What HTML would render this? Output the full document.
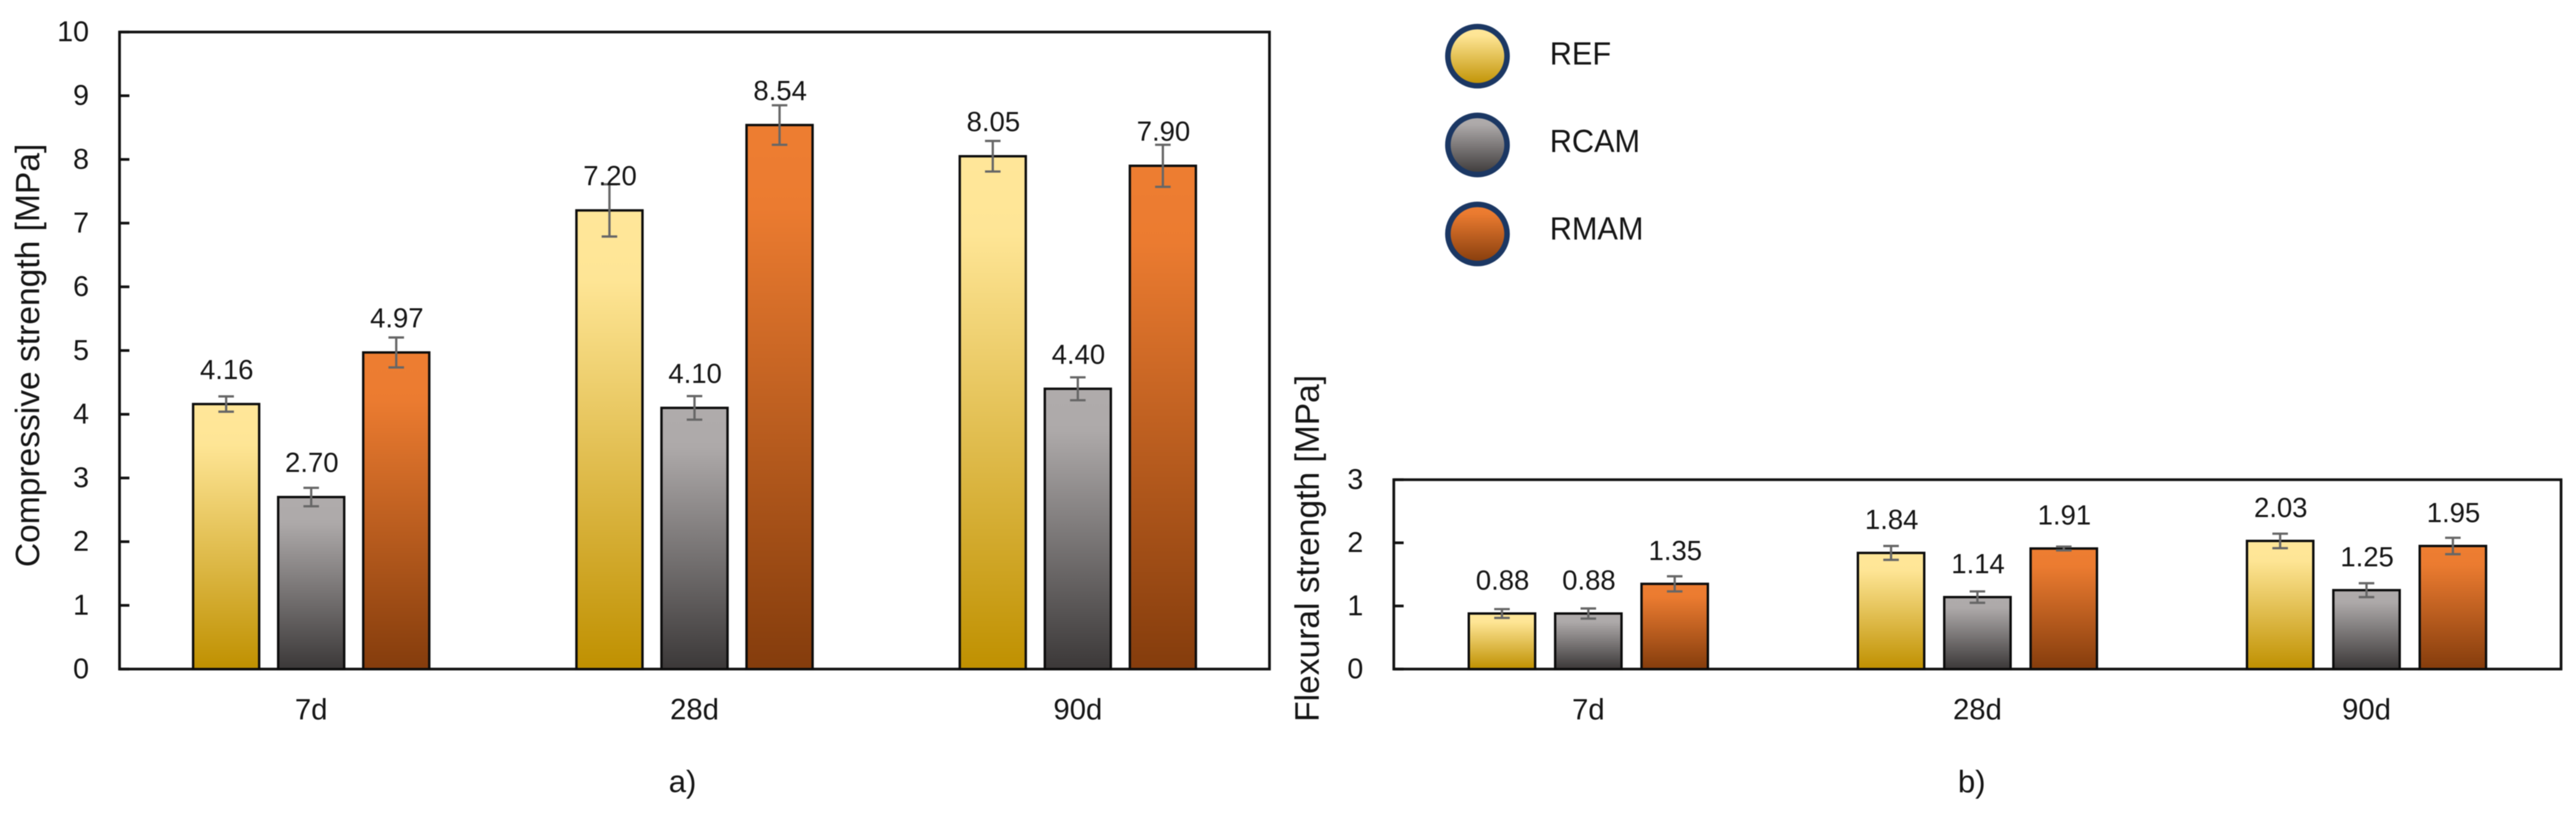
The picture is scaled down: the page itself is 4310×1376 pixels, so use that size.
<!DOCTYPE html>
<html lang="en">
<head>
<meta charset="utf-8">
<title>Compressive and flexural strength</title>
<style>
  html, body { margin: 0; padding: 0; background: #fff; }
  body { width: 4310px; height: 1376px; overflow: hidden; }
  svg { display: block; font-family: "Liberation Sans", Arial, sans-serif; fill: #151515; filter: blur(0.8px); }
</style>
</head>
<body>
<svg id="figure" xmlns="http://www.w3.org/2000/svg" width="4310" height="1376" viewBox="0 0 4310 1376">
  <defs>
    <linearGradient id="grad-ref" x1="0" y1="0" x2="0" y2="1">
      <stop offset="0" stop-color="#FFE699"/><stop offset="0.15" stop-color="#FEE595"/><stop offset="1" stop-color="#BF9000"/>
    </linearGradient>
    <linearGradient id="grad-rcam" x1="0" y1="0" x2="0" y2="1">
      <stop offset="0" stop-color="#AFABAB"/><stop offset="0.15" stop-color="#ADA9A9"/><stop offset="1" stop-color="#3B3838"/>
    </linearGradient>
    <linearGradient id="grad-rmam" x1="0" y1="0" x2="0" y2="1">
      <stop offset="0" stop-color="#ED7D31"/><stop offset="0.15" stop-color="#EB7B30"/><stop offset="1" stop-color="#843C0C"/>
    </linearGradient>
  </defs>

  <g id="chart-a"></g>
  <g id="chart-b"></g>

  <text transform="translate(65.5 595) rotate(-90)" text-anchor="middle" font-size="56.2">Compressive strength [MPa]</text>
  <text transform="translate(2206.5 918) rotate(-90)" text-anchor="middle" font-size="56.2">Flexural strength [MPa]</text>
  <text x="1142" y="1326" text-anchor="middle" font-size="52">a)</text>
  <text x="3299" y="1326" text-anchor="middle" font-size="52">b)</text>

  <g>
    <g>
      <circle cx="2472" cy="94" r="49.5" fill="url(#grad-ref)" stroke="#1B3763" stroke-width="9.3"/>
      <text transform="translate(2593 108) scale(0.95 1)" font-size="54">REF</text>
    </g>
    <g>
      <circle cx="2472" cy="242.7" r="49.5" fill="url(#grad-rcam)" stroke="#1B3763" stroke-width="9.3"/>
      <text transform="translate(2593 254.5) scale(0.95 1)" font-size="54">RCAM</text>
    </g>
    <g>
      <circle cx="2472" cy="391.6" r="49.5" fill="url(#grad-rmam)" stroke="#1B3763" stroke-width="9.3"/>
      <text transform="translate(2593 401) scale(0.95 1)" font-size="54">RMAM</text>
    </g>
  </g>
</svg>

<script>
const categories = ['7d', '28d', '90d'];
const seriesKeys = ['ref', 'rcam', 'rmam'];

const compressiveRef = [4.16, 7.20, 8.05];
const compressiveRcam = [2.70, 4.10, 4.40];
const compressiveRmam = [4.97, 8.54, 7.90];
const compressiveErrRef = [0.12, 0.41, 0.24];
const compressiveErrRcam = [0.145, 0.185, 0.18];
const compressiveErrRmam = [0.235, 0.31, 0.33];
const compressiveTicks = [0, 1, 2, 3, 4, 5, 6, 7, 8, 9, 10];

const flexuralRef = [0.88, 1.84, 2.03];
const flexuralRcam = [0.88, 1.14, 1.25];
const flexuralRmam = [1.35, 1.91, 1.95];
const flexuralErrRef = [0.07, 0.11, 0.115];
const flexuralErrRcam = [0.08, 0.09, 0.11];
const flexuralErrRmam = [0.12, 0.03, 0.13];
const flexuralTicks = [0, 1, 2, 3];

const SVG_NS = 'http://www.w3.org/2000/svg';

function make(parent, tag, geometry) {
  const el = document.createElementNS(SVG_NS, tag);
  for (const key in geometry) {
    el.setAttribute(key, geometry[key]);
  }
  parent.appendChild(el);
  return el;
}

function drawChart(root, prefix, frame, ticks, seriesValues, seriesErrors) {
  const yMax = ticks[ticks.length - 1];
  const yScale = v => frame.bottom - (v / yMax) * (frame.bottom - frame.top);
  const bandWidth = (frame.right - frame.left) / categories.length;
  const bandCenter = c => frame.left + bandWidth * (c + 0.5);
  const barCenter = (c, s) => bandCenter(c) + (s - 1) * frame.pitch;

  ticks.forEach(tick => {
    const y = yScale(tick);
    const mark = make(root, 'line', { x1: frame.left, x2: frame.left + 16.5, y1: y, y2: y, stroke: '#111', 'stroke-width': 4.5 });
    
    
    const label = make(root, 'text', { x: frame.left - 51, y: y + 15.5, 'text-anchor': 'end', 'font-size': 48 });
    label.textContent = String(tick);
    
    
  });

  const plotFrame = make(root, 'rect', {
    x: frame.left, y: frame.top,
    width: frame.right - frame.left, height: frame.bottom - frame.top,
    fill: 'none', stroke: '#111', 'stroke-width': 4.5
  });
  
  

  categories.forEach((category, c) => {
    const catLabel = make(root, 'text', { x: bandCenter(c), y: frame.bottom + 84, 'text-anchor': 'middle', 'font-size': 49 });
    catLabel.textContent = category;
    
    

    seriesKeys.forEach((key, s) => {
      const value = seriesValues[s][c];
      const err = seriesErrors[s][c];
      const cx = barCenter(c, s);
      const top = yScale(value);

      const bar = make(root, 'rect', {
        x: cx - frame.barWidth / 2, y: top,
        width: frame.barWidth, height: frame.bottom - top,
        fill: 'url(#grad-' + key + ')', stroke: '#0c0c0c', 'stroke-width': 4
      });
      
      

      const yHigh = yScale(value + err);
      const yLow = yScale(value - err);
      const whisker = make(root, 'path', {
        d: 'M' + cx + ' ' + yHigh + 'V' + yLow +
           'M' + (cx - 13) + ' ' + yHigh + 'H' + (cx + 13) +
           'M' + (cx - 13) + ' ' + yLow + 'H' + (cx + 13),
        fill: 'none', stroke: '#666', 'stroke-width': 3.8
      });
      
      

      const valueLabel = make(root, 'text', { x: cx + 1, y: top - frame.labelGap, 'text-anchor': 'middle', 'font-size': 46 });
      valueLabel.textContent = value.toFixed(2);
      
      
    });
  });
}

drawChart(
  document.getElementById('chart-a'), 'compressive',
  { left: 200, right: 2124, top: 53.6, bottom: 1120, pitch: 142.3, barWidth: 110.5, labelGap: 42 },
  compressiveTicks,
  [compressiveRef, compressiveRcam, compressiveRmam],
  [compressiveErrRef, compressiveErrRcam, compressiveErrRmam]
);

drawChart(
  document.getElementById('chart-b'), 'flexural',
  { left: 2332, right: 4285, top: 803, bottom: 1120, pitch: 144.5, barWidth: 111, labelGap: 40 },
  flexuralTicks,
  [flexuralRef, flexuralRcam, flexuralRmam],
  [flexuralErrRef, flexuralErrRcam, flexuralErrRmam]
);
</script>
</body>
</html>
